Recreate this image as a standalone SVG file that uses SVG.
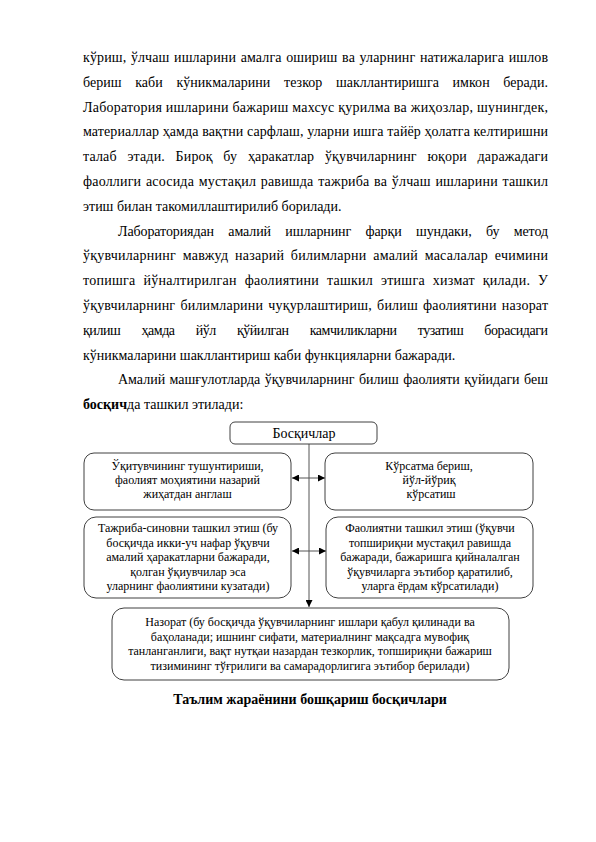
<svg xmlns="http://www.w3.org/2000/svg" width="596" height="842" viewBox="0 0 596 842">
<defs>
<style>
.body{font-family:"Liberation Serif","Times New Roman",serif;font-size:14px;fill:#000}
.box{fill:#fff;stroke:#404040;stroke-width:1}
.bt{font-family:"Liberation Serif","Times New Roman",serif;font-size:12px;fill:#000;text-anchor:middle}
.conn{stroke:#555;stroke-width:1;fill:none}
</style>
<marker id="ah" viewBox="0 0 8 8" refX="8" refY="4" markerWidth="7" markerHeight="7" markerUnits="userSpaceOnUse" orient="auto-start-reverse">
<path d="M0,0 L8,4 L0,8 z" fill="#000"/>
</marker>
</defs>
<rect width="596" height="842" fill="#fff"/>
<g id="paragraphs" class="body">
<text x="83" y="62" textLength="465" lengthAdjust="spacing" word-spacing="1">кўриш, ўлчаш ишларини амалга ошириш ва уларнинг натижаларига ишлов</text>
<text x="83" y="86.8" textLength="465" lengthAdjust="spacing" word-spacing="10">бериш каби кўникмаларини тезкор шакллантиришга имкон беради.</text>
<text x="83" y="111.6" textLength="465" lengthAdjust="spacing">Лаборатория ишларини бажариш махсус қурилма ва жиҳозлар, шунингдек,</text>
<text x="83" y="136.4" textLength="465" lengthAdjust="spacing">материаллар ҳамда вақтни сарфлаш, уларни ишга тайёр ҳолатга келтиришни</text>
<text x="83" y="161.2" textLength="465" lengthAdjust="spacing" word-spacing="7">талаб этади. Бироқ бу ҳаракатлар ўқувчиларнинг юқори даражадаги</text>
<text x="83" y="186" textLength="465" lengthAdjust="spacing" word-spacing="1">фаоллиги асосида мустақил равишда тажриба ва ўлчаш ишларини ташкил</text>
<text x="83" y="210.8">этиш билан такомиллаштирилиб борилади.</text>
<text x="118" y="235.6" textLength="430" lengthAdjust="spacing" word-spacing="11">Лабораториядан амалий ишларнинг фарқи шундаки, бу метод</text>
<text x="83" y="260.4" textLength="465" lengthAdjust="spacing" word-spacing="3">ўқувчиларнинг мавжуд назарий билимларни амалий масалалар ечимини</text>
<text x="83" y="285.2" textLength="465" lengthAdjust="spacing" word-spacing="4">топишга йўналтирилган фаолиятини ташкил этишга хизмат қилади. У</text>
<text x="83" y="310" textLength="465" lengthAdjust="spacing" word-spacing="1.5">ўқувчиларнинг билимларини чуқурлаштириш, билиш фаолиятини назорат</text>
<text x="83" y="334.8" textLength="465" lengthAdjust="spacing" word-spacing="18">қилиш ҳамда йўл қўйилган камчиликларни тузатиш борасидаги</text>
<text x="83" y="359.6">кўникмаларини шакллантириш каби функцияларни бажаради.</text>
<text x="118" y="384.4" textLength="430" lengthAdjust="spacing" word-spacing="1">Амалий машғулотларда ўқувчиларнинг билиш фаолияти қуйидаги беш</text>
<text x="83" y="409.2"><tspan font-weight="bold">босқич</tspan>да ташкил этилади:</text>
</g>
<g id="connectors">
<line class="conn" x1="309" y1="444" x2="309" y2="607" marker-end="url(#ah)"/>
<line class="conn" x1="292" y1="478" x2="325" y2="478" marker-start="url(#ah)" marker-end="url(#ah)"/>
<line class="conn" x1="292" y1="551" x2="326" y2="551" marker-start="url(#ah)" marker-end="url(#ah)"/>
</g>
<g id="node-top">
<rect class="box" x="230" y="422" width="147" height="22" rx="5"/>
<text x="304" y="438" class="body" text-anchor="middle">Босқичлар</text>
</g>
<g id="node-1">
<rect class="box" x="84" y="453" width="207" height="57" rx="10"/>
<text class="bt"><tspan x="187.5" y="470">Ўқитувчининг тушунтириши,</tspan><tspan x="187.5" y="484">фаолият моҳиятини назарий</tspan><tspan x="187.5" y="498">жиҳатдан англаш</tspan></text>
</g>
<g id="node-2">
<rect class="box" x="325" y="453" width="208" height="57" rx="10"/>
<text class="bt"><tspan x="429" y="470">Кўрсатма бериш,</tspan><tspan x="429" y="484">йўл-йўриқ</tspan><tspan x="431" y="498">кўрсатиш</tspan></text>
</g>
<g id="node-3">
<rect class="box" x="84" y="517" width="207" height="81" rx="12"/>
<text class="bt"><tspan x="188" y="532">Тажриба-синовни ташкил этиш  (бу</tspan><tspan x="188" y="546.5">босқичда икки-уч нафар ўқувчи</tspan><tspan x="188" y="561">амалий ҳаракатларни бажаради,</tspan><tspan x="188" y="575.5">қолган ўқиувчилар эса</tspan><tspan x="188" y="590">уларнинг фаолиятини кузатади)</tspan></text>
</g>
<g id="node-4">
<rect class="box" x="326" y="517" width="207" height="81" rx="12"/>
<text class="bt"><tspan x="430" y="532">Фаолиятни ташкил этиш (ўқувчи</tspan><tspan x="430" y="546.5">топшириқни мустақил равишда</tspan><tspan x="430" y="561">бажаради, бажаришга қийналалган</tspan><tspan x="430" y="575.5">ўқувчиларга эътибор қаратилиб,</tspan><tspan x="430" y="590">уларга ёрдам кўрсатилади)</tspan></text>
</g>
<g id="node-5">
<rect class="box" x="112" y="608" width="397" height="72" rx="12"/>
<text class="bt"><tspan x="310" y="626">Назорат (бу босқичда ўқувчиларнинг ишлари қабул қилинади ва</tspan><tspan x="310" y="640.5">баҳоланади; ишнинг сифати, материалнинг мақсадга мувофиқ</tspan><tspan x="310" y="655">танланганлиги, вақт нутқаи назардан тезкорлик, топшириқни бажариш</tspan><tspan x="310" y="669.5">тизимининг тўғрилиги ва самарадорлигига эътибор берилади)</tspan></text>
</g>
<g id="caption">
<text x="310" y="704" class="body" font-weight="bold" text-anchor="middle">Таълим жараёнини бошқариш босқичлари</text>
</g>
</svg>
